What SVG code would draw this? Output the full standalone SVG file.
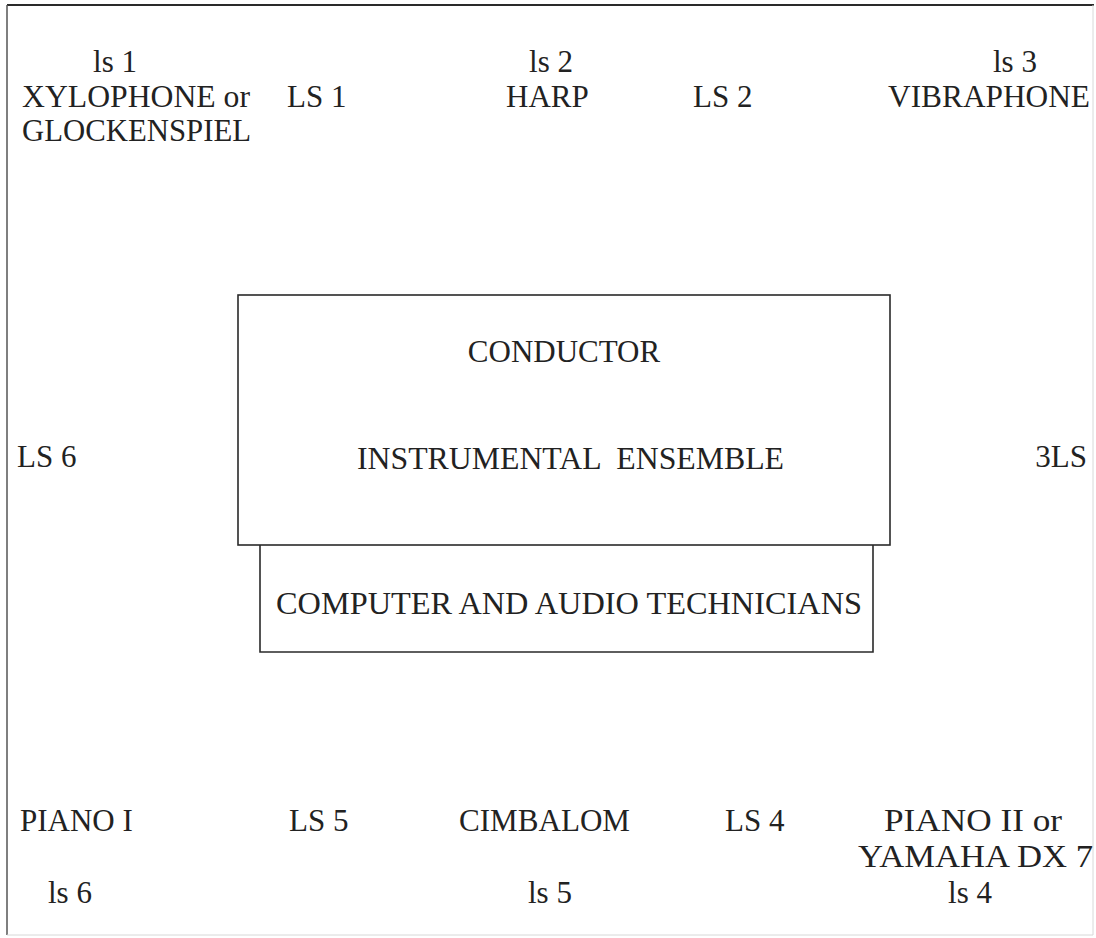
<svg xmlns="http://www.w3.org/2000/svg" width="1096" height="938" viewBox="0 0 1096 938">
<style>
text{font-family:"Liberation Serif","Times New Roman",serif;font-size:31px;fill:#222222}
.m{text-anchor:middle}
.e{text-anchor:end}
.box{fill:none;stroke:#2a2a2a;stroke-width:1.6}
</style>
<rect width="1096" height="938" fill="#ffffff"/>
<g id="frame">
<line x1="7" y1="5" x2="1094" y2="5" stroke="#2a2a2a" stroke-width="2"/>
<line x1="7" y1="5" x2="7" y2="935" stroke="#555" stroke-width="1.5"/>
<line x1="1093" y1="5" x2="1093" y2="935" stroke="#d8d8d8" stroke-width="1"/>
<line x1="7" y1="935" x2="1093" y2="935" stroke="#d8d8d8" stroke-width="1"/>
</g>
<g id="connectors"></g>
<g id="top-row">
<text class="m" x="115" y="72">ls 1</text>
<text x="22" y="107" textLength="228" lengthAdjust="spacingAndGlyphs">XYLOPHONE or</text>
<text x="22" y="141" textLength="229" lengthAdjust="spacingAndGlyphs">GLOCKENSPIEL</text>
<text x="287" y="107">LS 1</text>
<text class="m" x="551" y="72">ls 2</text>
<text x="506" y="107">HARP</text>
<text x="693" y="107">LS 2</text>
<text x="993" y="72">ls 3</text>
<text x="888" y="107" textLength="202" lengthAdjust="spacingAndGlyphs">VIBRAPHONE</text>
</g>
<g id="ensemble">
<rect class="box" x="238" y="295" width="652" height="250"/>
<text class="m" x="564" y="362">CONDUCTOR</text>
<text x="357" y="469" textLength="427" lengthAdjust="spacingAndGlyphs" xml:space="preserve">INSTRUMENTAL  ENSEMBLE</text>
</g>
<g id="technicians">
<path class="box" d="M260 545 V652 H873 V545"/>
<text x="276" y="614" textLength="586" lengthAdjust="spacingAndGlyphs">COMPUTER AND AUDIO TECHNICIANS</text>
</g>
<g id="middle-row">
<text x="17" y="467">LS 6</text>
<text class="e" x="1087" y="467">3LS</text>
</g>
<g id="bottom-row">
<text x="20" y="831">PIANO I</text>
<text x="289" y="831">LS 5</text>
<text x="459" y="831" textLength="171" lengthAdjust="spacingAndGlyphs">CIMBALOM</text>
<text x="725" y="831">LS 4</text>
<text x="884" y="831" textLength="178" lengthAdjust="spacingAndGlyphs">PIANO II or</text>
<text x="858" y="867" textLength="235" lengthAdjust="spacingAndGlyphs">YAMAHA DX 7</text>
<text class="m" x="970" y="903">ls 4</text>
<text x="48" y="903">ls 6</text>
<text x="528" y="903">ls 5</text>
</g>
</svg>
